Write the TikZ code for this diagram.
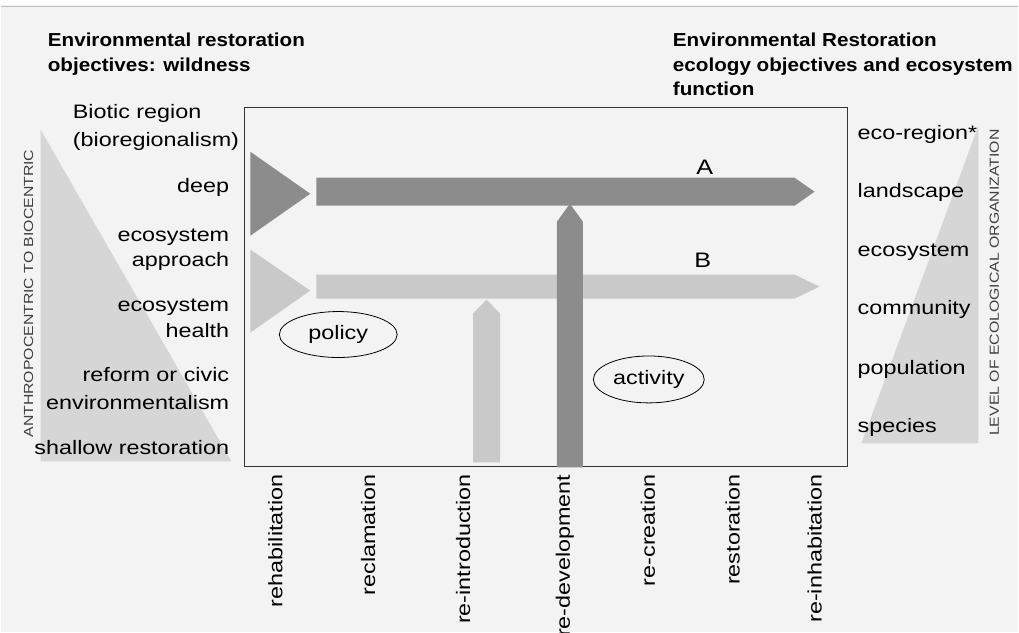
\documentclass[tikz,border=0pt]{standalone}
\usepackage{fontspec}
\setmainfont{Liberation Sans}[FakeStretch=1.2]
\newfontfamily\titlefont{Liberation Sans}[FakeStretch=1.1]
\usetikzlibrary{shapes.geometric}
\definecolor{bg}{HTML}{F3F3F3}
\definecolor{darkarrow}{HTML}{8C8C8C}
\definecolor{lightarrow}{HTML}{C9C9C9}
\definecolor{tri}{HTML}{D6D6D6}
\tikzset{
  lbl/.style={font=\fontsize{19.5}{26.5}\selectfont, inner sep=0pt},
  ttl/.style={font=\titlefont\bfseries\fontsize{18.8}{25}\selectfont, inner sep=0pt, align=left, anchor=base west},
  side/.style={font=\fontsize{13.2}{16}\selectfont, rotate=90, inner sep=0pt, text=black!75},
  vlbl/.style={lbl, rotate=90, anchor=east},
  leftlbl/.style={lbl, align=right, anchor=base east},
  rightlbl/.style={lbl, anchor=base west},
  oval/.style={ellipse, draw, line width=0.8pt, inner sep=0pt, lbl},
  letter/.style={font=\fontsize{21}{21}\selectfont, inner sep=0pt},
}
\begin{document}
\begin{tikzpicture}[x=1pt,y=-1pt]
\fill[bg] (0,0) rectangle (1019,633);
\fill[white] (0,0) rectangle (1019,5);
\draw[black!25, line width=1.5pt] (0,6.5) -- (1019,6.5);
\useasboundingbox (0,0) rectangle (1019,633);

% side triangles
\fill[tri] (40,130) -- (40,462) -- (231,462) -- cycle;
\fill[tri] (979,126) -- (979,444) -- (862,444) -- cycle;

% frame
\draw[line width=1.1pt, black!80] (244,108) rectangle (848,467);

% arrow B (light)
\fill[lightarrow] (250,250) -- (310,291) -- (250,333) -- cycle;
\fill[lightarrow] (316,275) -- (795,275) -- (820,287) -- (795,299) -- (316,299) -- cycle;
% light vertical
\fill[lightarrow] (473,463) -- (473,314) -- (486.5,300) -- (500,314) -- (500,463) -- cycle;
% arrow A (dark)
\fill[darkarrow] (250,152) -- (310,194) -- (250,236) -- cycle;
\fill[darkarrow] (316,178) -- (795,178) -- (815,192) -- (795,206) -- (316,206) -- cycle;
% dark vertical
\fill[darkarrow] (557,468) -- (557,222) -- (570,204) -- (583,222) -- (583,468) -- cycle;

% titles
\node[ttl] (t1) at (47,47) {Environmental restoration};
\node[ttl] (t2) at (47,72) {objectives: wildness};
\node[ttl] (t3) at (673,47) {Environmental Restoration};
\node[ttl] (t4) at (673,72) {ecology objectives and ecosystem};
\node[ttl] (t5) at (673,96) {function};

% left labels
\node[rightlbl] (bio1) at (72,119) {Biotic region};
\node[rightlbl] (bio2) at (72,147) {(bioregionalism)};
\node[leftlbl] (deep) at (229,193) {deep};
\node[leftlbl] (eco1) at (229,242) {ecosystem};
\node[leftlbl] (eco2) at (229,267) {approach};
\node[leftlbl] (hea1) at (229,312) {ecosystem};
\node[leftlbl] (hea2) at (229,338) {health};
\node[leftlbl] (ref1) at (229,382) {reform or civic};
\node[leftlbl] (ref2) at (229,410) {environmentalism};
\node[leftlbl] (shal) at (229,455) {shallow restoration};

% right labels
\node[rightlbl] (r1) at (858,140) {eco-region*};
\node[rightlbl] (r2) at (858,198) {landscape};
\node[rightlbl] (r3) at (858,257) {ecosystem};
\node[rightlbl] (r4) at (858,315) {community};
\node[rightlbl] (r5) at (858,375) {population};
\node[rightlbl] (r6) at (858,433) {species};

% side captions
\node[side] (anthro) at (28,294) {ANTHROPOCENTRIC TO BIOCENTRIC};
\node[side] (level) at (995,283) {LEVEL OF ECOLOGICAL ORGANIZATION};

% A, B
\node[letter] (la) at (705,168) {A};
\node[letter] (lb) at (703,261) {B};

% ovals
\node[oval, minimum width=118pt, minimum height=46pt] (policy) at (338,335) {policy};
\node[oval, minimum width=111pt, minimum height=47pt] (activity) at (649,380) {activity};

% bottom labels
\node[vlbl] (b1) at (275,475) {rehabilitation};
\node[vlbl] (b2) at (368,475) {reclamation};
\node[vlbl] (b3) at (463,475) {re-introduction};
\node[vlbl] (b4) at (565,475) {re-development};
\node[vlbl] (b5) at (648,475) {re-creation};
\node[vlbl] (b6) at (733,475) {restoration};
\node[vlbl] (b7) at (815,475) {re-inhabitation};
\end{tikzpicture}
\end{document}
